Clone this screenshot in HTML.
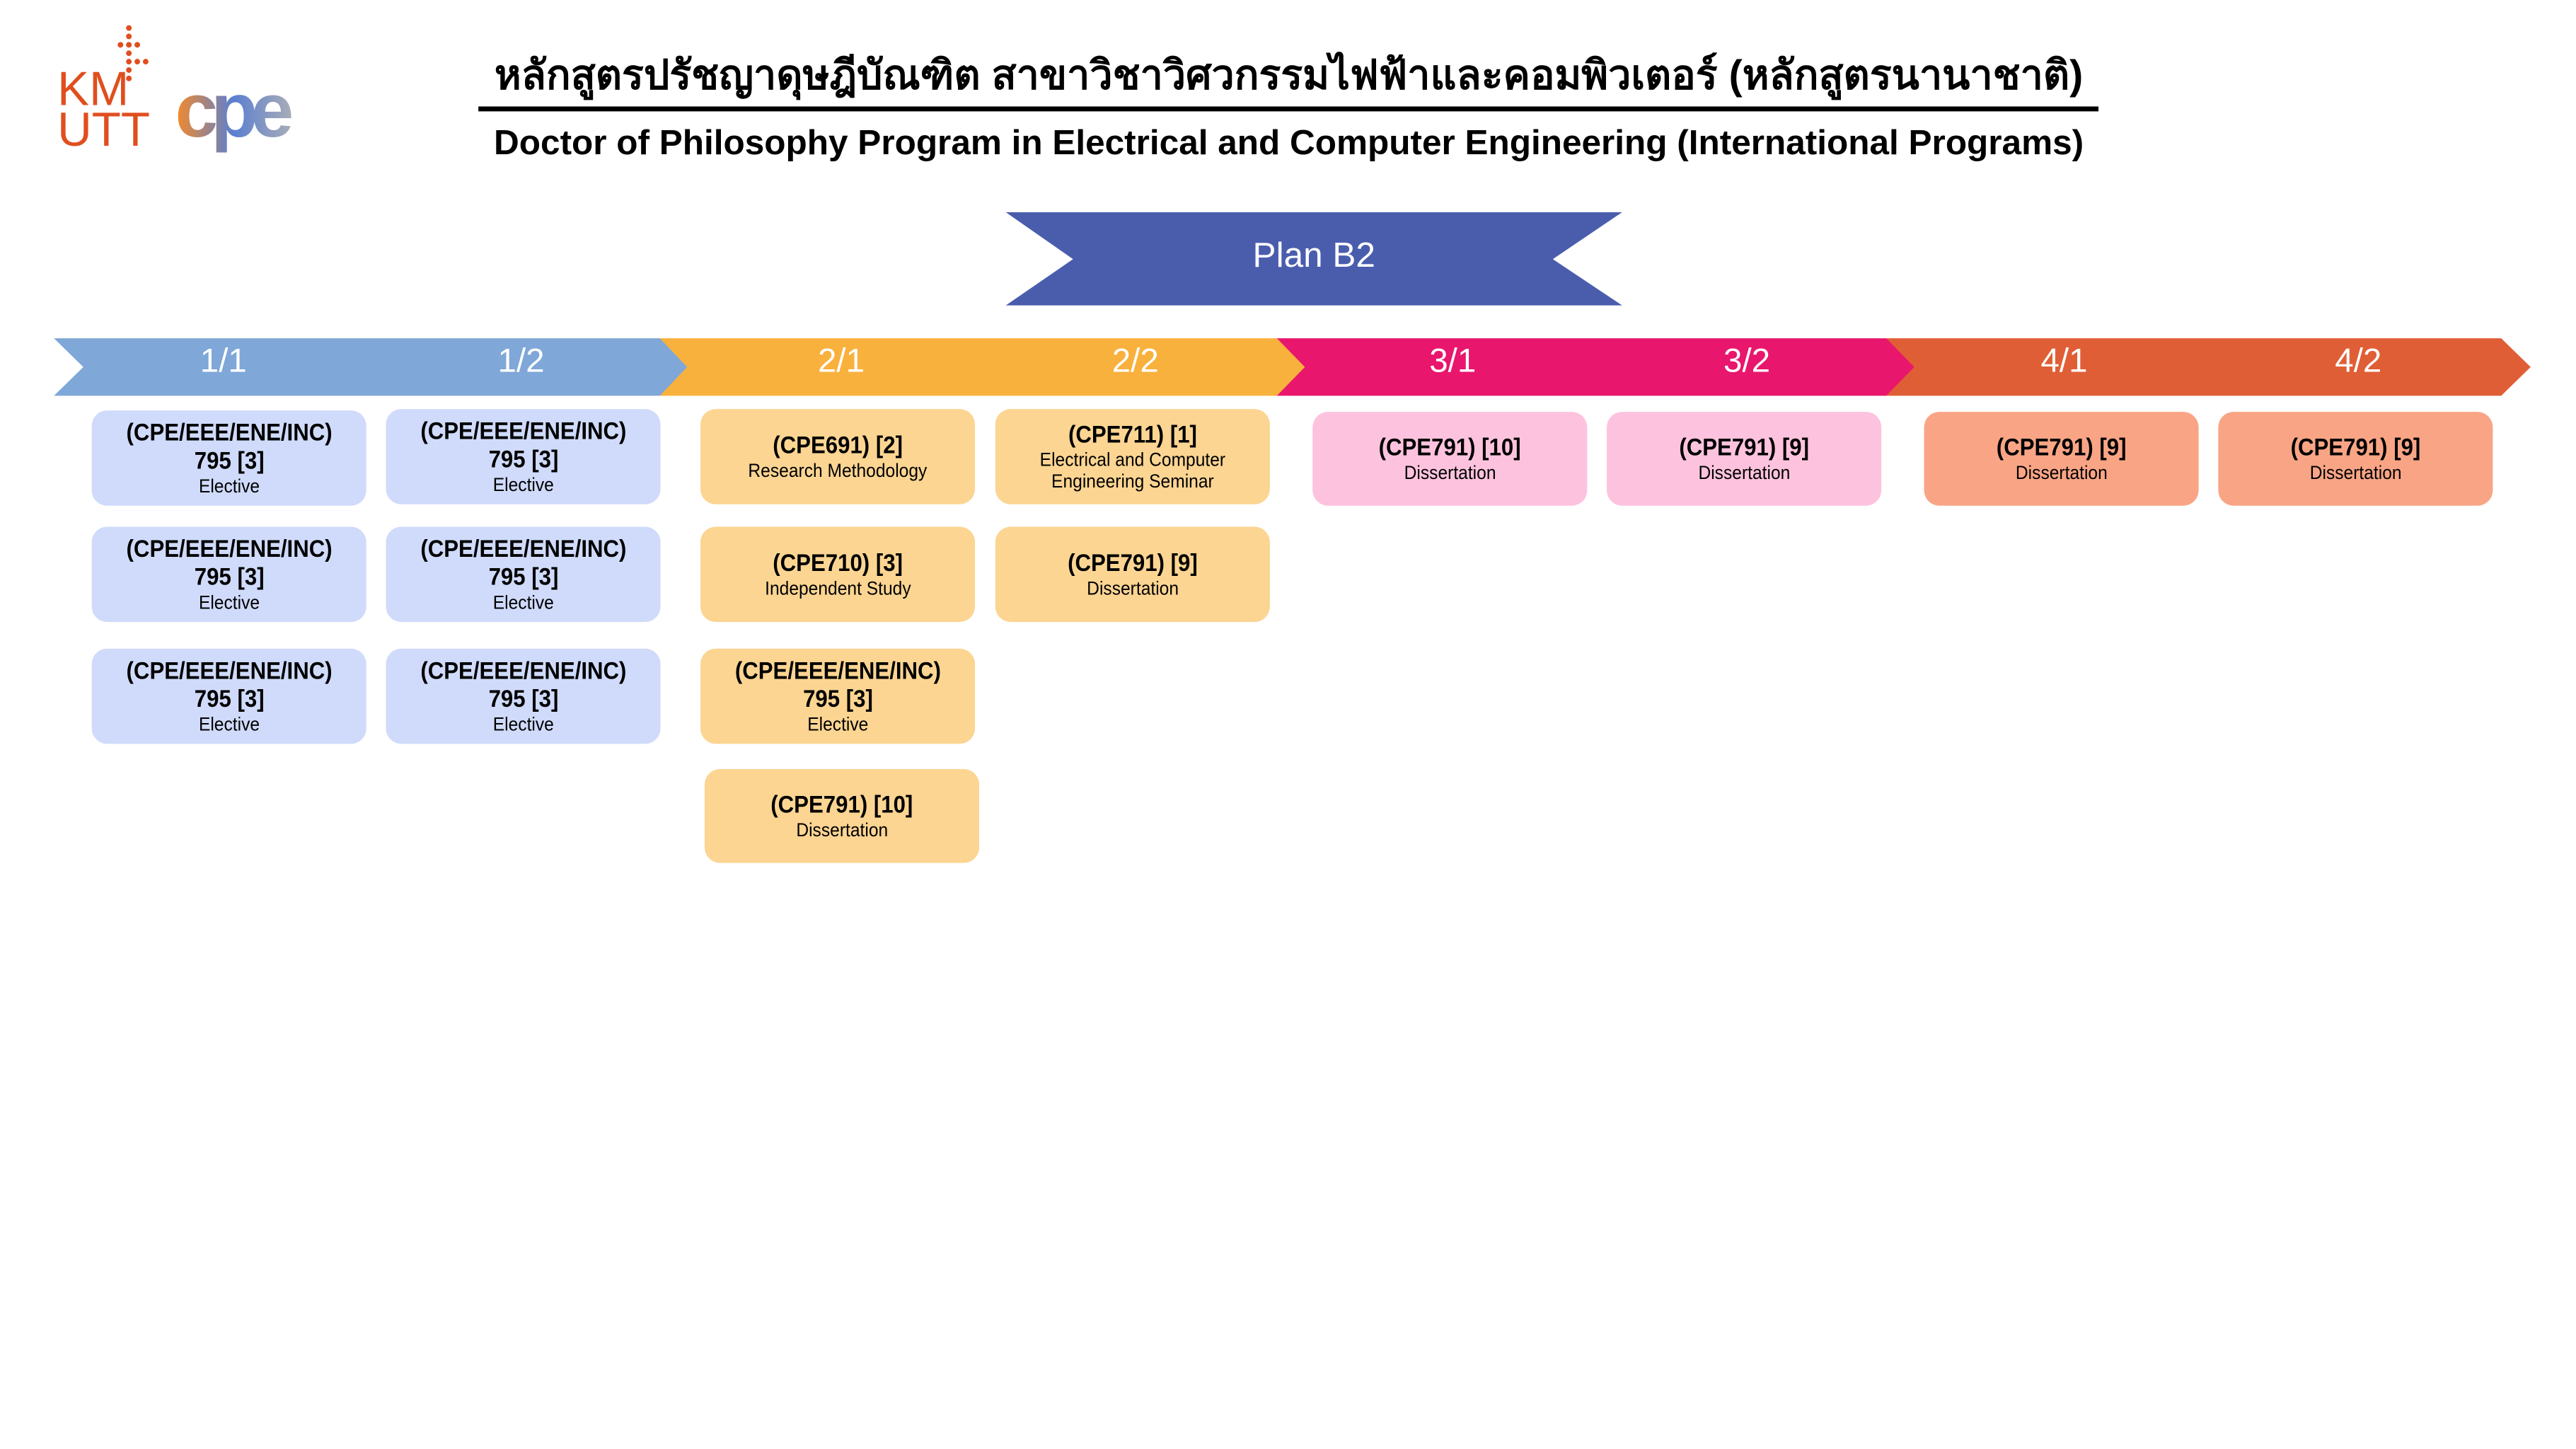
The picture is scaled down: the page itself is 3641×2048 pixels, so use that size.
<!DOCTYPE html>
<html><head><meta charset="utf-8"><style>
body{margin:0;width:3641px;height:2048px;background:#fff;position:relative;overflow:hidden;font-family:"Liberation Sans","Noto Sans CJK SC",sans-serif}
#w{position:absolute;left:0;top:0;width:3641px;height:2048px;transform:scale(0.99);transform-origin:0 0}
.b{position:absolute;border-radius:22px;display:flex;flex-direction:column;align-items:center;justify-content:center;text-align:center;color:#000;line-height:1.15}
.b b{font-size:35px;transform:scaleX(0.9)}
.b span{font-size:27px;transform:scaleX(0.92)}
.bl{background:#D0DBFB}.or{background:#FCD592}.pk{background:#FDC3DE}.sa{background:#F9A585}
.lbl{position:absolute;top:488px;font-size:48px;color:#fff;width:200px;margin-left:-100px;text-align:center}
</style></head><body><div id="w">
<svg width="3641" height="2048" style="position:absolute;left:0;top:0">
<defs><linearGradient id="g" x1="0" x2="1"><stop offset="0" stop-color="#F58A2A"/><stop offset="0.5" stop-color="#5B7FD0"/><stop offset="1" stop-color="#A8ACB8"/></linearGradient></defs>
<polygon points="2693,483 3571,483 3613,524 3571,565 2693,565" fill="#E05E35"/>
<polygon points="1823,483 2693,483 2733,524 2693,565 1823,565" fill="#E8166D"/>
<polygon points="942,483 1823,483 1863,524 1823,565 942,565" fill="#F9B13D"/>
<polygon points="77,483 942,483 981,524 942,565 77,565 119,524" fill="#7FA7D8"/>
<polygon points="1436,303 2316,303 2217,370 2316,436 1436,436 1532,370" fill="#4A5DAD"/>
<rect x="683" y="152" width="2313" height="7" fill="#000"/>
<g fill="#E04E1E">
<text x="82" y="150" font-size="68" font-family="Liberation Sans" fill="#E04E1E">KM</text>
<text x="82" y="208" font-size="68" font-family="Liberation Sans" fill="#E04E1E">UTT</text>
<circle cx="184" cy="40" r="4"/><circle cx="184" cy="52" r="4"/><circle cx="172" cy="64" r="4"/><circle cx="184" cy="64" r="4"/><circle cx="196" cy="64" r="4"/><circle cx="184" cy="76" r="4"/><circle cx="184" cy="88" r="4"/><circle cx="196" cy="88" r="4"/><circle cx="208" cy="88" r="4"/><circle cx="184" cy="100" r="4"/><circle cx="184" cy="112" r="4"/>
</g>
<text x="250" y="195" font-size="110" font-weight="bold" font-family="Liberation Sans" fill="url(#g)" letter-spacing="-10">cpe</text>
</svg>
<div style="position:absolute;left:600px;width:2480px;top:60px;text-align:center;font-size:58px;font-weight:bold;font-family:'Liberation Sans','Noto Sans CJK SC',sans-serif">หลักสูตรปรัชญาดุษฎีบัณฑิต สาขาวิชาวิศวกรรมไฟฟ้าและคอมพิวเตอร์ (หลักสูตรนานาชาติ)</div>
<div style="position:absolute;left:600px;width:2480px;top:174px;text-align:center;font-size:50px;font-weight:bold">Doctor of Philosophy Program in Electrical and Computer Engineering (International Programs)</div>
<div style="position:absolute;left:1776px;width:200px;top:335px;text-align:center;font-size:50px;color:#fff">Plan B2</div>
<div class="lbl" style="left:319px">1/1</div><div class="lbl" style="left:744px">1/2</div>
<div class="lbl" style="left:1201px">2/1</div><div class="lbl" style="left:1621px">2/2</div>
<div class="lbl" style="left:2074px">3/1</div><div class="lbl" style="left:2494px">3/2</div>
<div class="lbl" style="left:2947px">4/1</div><div class="lbl" style="left:3367px">4/2</div>

<div class="b bl" style="left:131px;top:586px;width:392px;height:136px"><b>(CPE/EEE/ENE/INC)</b><b>795 [3]</b><span>Elective</span></div>
<div class="b bl" style="left:131px;top:752px;width:392px;height:136px"><b>(CPE/EEE/ENE/INC)</b><b>795 [3]</b><span>Elective</span></div>
<div class="b bl" style="left:131px;top:926px;width:392px;height:136px"><b>(CPE/EEE/ENE/INC)</b><b>795 [3]</b><span>Elective</span></div>
<div class="b bl" style="left:551px;top:584px;width:392px;height:136px"><b>(CPE/EEE/ENE/INC)</b><b>795 [3]</b><span>Elective</span></div>
<div class="b bl" style="left:551px;top:752px;width:392px;height:136px"><b>(CPE/EEE/ENE/INC)</b><b>795 [3]</b><span>Elective</span></div>
<div class="b bl" style="left:551px;top:926px;width:392px;height:136px"><b>(CPE/EEE/ENE/INC)</b><b>795 [3]</b><span>Elective</span></div>

<div class="b or" style="left:1000px;top:584px;width:392px;height:136px"><b>(CPE691) [2]</b><span>Research Methodology</span></div>
<div class="b or" style="left:1000px;top:752px;width:392px;height:136px"><b>(CPE710) [3]</b><span>Independent Study</span></div>
<div class="b or" style="left:1000px;top:926px;width:392px;height:136px"><b>(CPE/EEE/ENE/INC)</b><b>795 [3]</b><span>Elective</span></div>
<div class="b or" style="left:1006px;top:1098px;width:392px;height:134px"><b>(CPE791) [10]</b><span>Dissertation</span></div>
<div class="b or" style="left:1421px;top:584px;width:392px;height:136px"><b>(CPE711) [1]</b><span>Electrical and Computer<br>Engineering Seminar</span></div>
<div class="b or" style="left:1421px;top:752px;width:392px;height:136px"><b>(CPE791) [9]</b><span>Dissertation</span></div>

<div class="b pk" style="left:1874px;top:588px;width:392px;height:134px"><b>(CPE791) [10]</b><span>Dissertation</span></div>
<div class="b pk" style="left:2294px;top:588px;width:392px;height:134px"><b>(CPE791) [9]</b><span>Dissertation</span></div>
<div class="b sa" style="left:2747px;top:588px;width:392px;height:134px"><b>(CPE791) [9]</b><span>Dissertation</span></div>
<div class="b sa" style="left:3167px;top:588px;width:392px;height:134px"><b>(CPE791) [9]</b><span>Dissertation</span></div>
</div></body></html>
